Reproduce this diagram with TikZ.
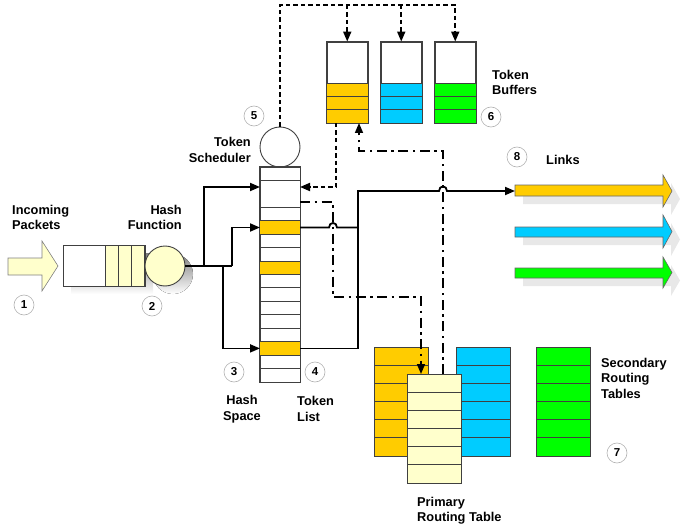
\documentclass[tikz,border=0pt]{standalone}
\usepackage{fontspec}
\setmainfont{Liberation Sans}
\usetikzlibrary{arrows.meta,calc}
\definecolor{tyellow}{HTML}{FFCC00}
\definecolor{tblue}{HTML}{00CCFF}
\definecolor{tgreen}{HTML}{00FF00}
\definecolor{pale}{HTML}{FFFFCC}
\definecolor{shade}{HTML}{DCDCDC}
\definecolor{lshade}{HTML}{E8E8E8}
\definecolor{edge}{HTML}{404040}
\tikzset{
  lbl/.style={font=\bfseries\fontsize{12.8}{15.5}\selectfont, inner sep=0pt},
  num/.style={circle, draw=gray!60, line width=0.6pt, fill=white, minimum size=20pt, inner sep=0pt, font=\bfseries\fontsize{11.5}{11.5}\selectfont},
  cell/.style={draw=edge, line width=0.9pt},
  rbox/.style={draw=edge, line width=0.9pt, inner sep=0pt},
  tip/.style={-{Triangle[length=10pt,width=8pt]}},
  solidflow/.style={line width=1.8pt},
  dashflow/.style={line width=1.8pt, dash pattern=on 4.5pt off 3pt},
  dotdash/.style={line width=1.6pt, dash pattern=on 10pt off 4.5pt on 2.5pt off 4.5pt},
  linkarrow/.style={draw=gray!80!black, line width=0.6pt},
}
\begin{document}
\begin{tikzpicture}[x=1pt,y=-1pt]
\useasboundingbox (0,0) rectangle (689,527);

% ---------- incoming packets arrow
\path[draw=gray, fill=pale, line width=0.6pt] (8,258)--(42,258)--(42,241)--(58,266)--(42,291)--(42,275)--(8,275)--cycle;

% ---------- queue + hash function (with shadows)
\fill[shade] (71,253) rectangle (153,294);
\fill[shade] (173,274) circle (20);
\node[rbox, fill=white, minimum width=82pt, minimum height=41pt] (queue) at (104,265.5) {};
\foreach \a in {105,118.3,131.6} \draw[cell, fill=pale] (\a,245) rectangle ++(13.3,41);
\node[circle, draw=edge, line width=0.9pt, fill=pale, minimum size=40pt, inner sep=0pt] (hash) at (165,266) {};

% ---------- token scheduler
\node[circle, draw=edge, line width=0.9pt, fill=white, minimum size=40pt, inner sep=0pt] (sched) at (280,147) {};

% ---------- token list / hash space
\node[rbox, fill=white, minimum width=40pt, minimum height=215pt] (tlist) at (280,274.5) {};
\foreach \i in {4,7,13} \fill[tyellow] (260,{167+\i*13.4375}) rectangle (300,{167+(\i+1)*13.4375});
\foreach \i in {1,3,4,5,6,7,8,9,10,11,12,13,14,15} \draw[cell] (260,{167+\i*13.4375}) -- (300,{167+\i*13.4375});
\draw[cell] (tlist.north west) rectangle (tlist.south east);

% ---------- token buffers
\foreach \n/\x/\c in {b1/327/tyellow, b2/381/tblue, b3/435/tgreen}{
  \node[rbox, fill=white, minimum width=40.5pt, minimum height=81pt] (\n) at (\x+20.25,82.5) {};
  \fill[\c] (\x,83) rectangle ++(40.5,40);
  \draw[cell] (\x,83) -- ++(40.5,0);
  \draw[cell] (\x,96.3) -- ++(40.5,0);
  \draw[cell] (\x,109.7) -- ++(40.5,0);
  \draw[cell] (\n.north west) rectangle (\n.south east);
}

% ---------- routing tables
\foreach \n/\x/\y/\c in {ry/374/347/tyellow, rb/456/347/tblue, rg/536/347/tgreen}{
  \node[rbox, fill=\c, minimum width=54pt, minimum height=109pt] (\n) at (\x+27,\y+54.5) {};
  \foreach \k in {1,...,5} \draw[cell] (\x,{\y+\k*18.17}) -- ++(54,0);
}

% ---------- connectors: hash function to hash space
\coordinate (j1) at (204,266);
\coordinate (j2) at (223,266);
\coordinate (j3) at (232,266);
\coordinate (in1) at (260,187);
\coordinate (in2) at (260,227.5);
\coordinate (in3) at (260,348.4);
\draw[solidflow] (hash.east) -- (j3);
\draw[solidflow,tip] (j1) |- (in1);
\draw[solidflow,tip] (j3) |- (in2);
\draw[solidflow,tip] (j2) |- (in3);

% ---------- scheduler to buffers (dashed)
\coordinate (top0) at (280,5);
\coordinate (top1) at (347.25,5);
\coordinate (top2) at (401.25,5);
\coordinate (top3) at (455.25,5);
\draw[dashflow,tip] (sched.north) |- (top3) -- (b3.north);
\draw[dashflow,tip] (top1) -- (b1.north);
\draw[dashflow,tip] (top2) -- (b2.north);

% ---------- buffer back to token list (dashed)
\coordinate (b1out) at (336,123);
\coordinate (in1r) at (300,187);
\draw[dashflow,tip] (b1out) |- (in1r);

% ---------- dash-dot control lines
\coordinate (pt1) at (443,374);
\coordinate (pt2) at (421,374);
\coordinate (b1in) at (359,123);
\coordinate (tl2) at (300,202);
\draw[dotdash,tip] (pt1) -- (443,151) -| (b1in);
\draw[dotdash,tip] (tl2) -| (333,297) -| (pt2);

% ---------- outgoing solid lines to links
\coordinate (out1) at (300,227.5);
\coordinate (out3) at (300,348.4);
\coordinate (link1) at (515,191);
\draw[solidflow] (out3) -- (358,348.4) -- (358,227.5);
\draw[solidflow,tip] (out1) -- (329,227.5) .. controls (329,221.5) and (337,221.5) .. (337,227.5) -- (358,227.5) -- (358,191) -- (439,191) .. controls (439,185) and (447,185) .. (447,191) -- (link1);

% ---------- primary routing table (on top)
\node[rbox, fill=pale, minimum width=54pt, minimum height=109pt] (rp) at (434,428.5) {};
\foreach \k in {1,...,5} \draw[cell] (407,{374+\k*18.17}) -- ++(54,0);

% ---------- links
\foreach \ya/\yb/\ha/\hb/\c in {185/196/175/207/tyellow, 227/237/215/248/tblue, 268/278/257/288/tgreen}{
  \fill[lshade] (523,\ya+8)--(671,\ya+8)--(671,\ha+8)--(680,{(\ha+\hb)/2+8})--(671,\hb+8)--(671,\yb+8)--(523,\yb+8)--cycle;
  \path[linkarrow, fill=\c] (515,\ya)--(663,\ya)--(663,\ha)--(672,{(\ha+\hb)/2})--(663,\hb)--(663,\yb)--(515,\yb)--cycle;
}

% ---------- labels
\node[lbl, anchor=north west, align=left] (tIn) at (12,205) {Incoming\\Packets};
\node[lbl, anchor=north east, align=right] (tHash) at (182,205) {Hash\\Function};
\node[lbl, anchor=east, align=right] (tSched) at (251,150) {Token\\Scheduler};
\node[lbl, anchor=west, align=left] (tBuf) at (492,82.5) {Token\\Buffers};
\node[lbl, anchor=west] (tLinks) at (546,160) {Links};
\node[lbl, anchor=center, align=center] (tHS) at (242,409) {Hash\\Space};
\node[lbl, anchor=west, align=left] (tTL) at (297,409) {Token\\List};
\node[lbl, anchor=west, align=left] (tSec) at (601,378) {Secondary\\Routing\\Tables};
\node[lbl, anchor=west, align=left] (tPri) at (417,510.5) {Primary\\Routing Table};

% ---------- numbers
\node[num] (n1) at (24,305) {1};
\node[num] (n2) at (152,306) {2};
\node[num] (n3) at (234,372) {3};
\node[num] (n4) at (315,372) {4};
\node[num] (n5) at (254,116) {5};
\node[num] (n6) at (491,117) {6};
\node[num] (n7) at (617,453) {7};
\node[num] (n8) at (517,157) {8};
\end{tikzpicture}
\end{document}
